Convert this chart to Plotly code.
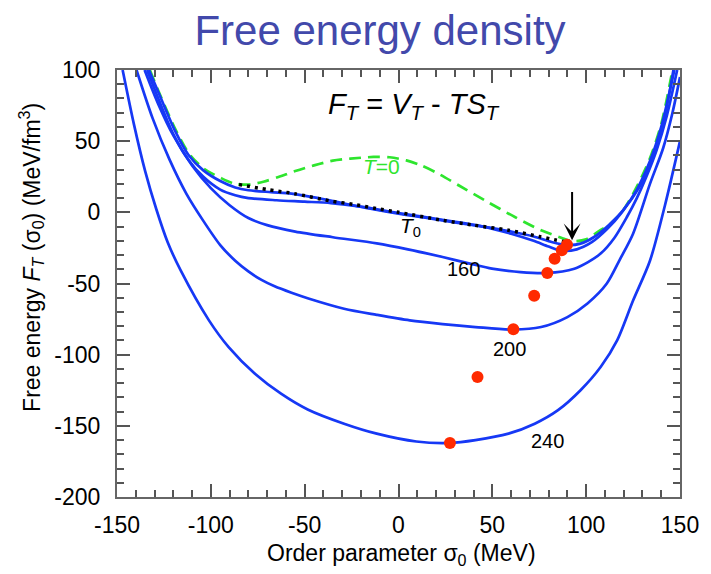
import plotly.graph_objects as go

# ---------------- data ----------------
green_T0_x = [-132.5, -127.4, -118.6, -111.6, -104, -94, -87, -80, -72, -64, -55, -45, -35, -25.7,
              -13.3, -4.7, 4.2, 12, 20, 32, 46, 62, 76, 86.7, 93, 100, 107, 113, 120, 127, 134, 140, 146]
green_T0_y = [100, 83.6, 57.6, 41.2, 31, 23.7, 20, 19.5, 21.5, 24.8, 29, 33, 36.3, 37.7,
              38.9, 38.7, 36.5, 33, 28, 19, 8.4, -3.3, -12.6, -17.8, -20.3, -19, -13, -8, 2, 18, 38, 62, 100]

dot_x = [-85, -70, -55.4, -36.3, -24, -11.6, 0, 23.5, 40, 58.6, 75, 83, 88]
dot_y = [19.5, 16, 13.1, 8, 5.6, 2.6, 0, -5.6, -9, -12.6, -17, -19.2, -20.5]

cT0_x = [-133, -127.5, -119, -112, -104, -95, -87, -80, -68, -57, -45, -30, -15, 0, 15, 30, 45,
         60, 72, 82, 90, 97, 104, 112, 120, 128, 135, 141, 146.5]
cT0_y = [100, 83, 57, 40.5, 29.5, 22, 17.5, 15.5, 14.2, 13.2, 10.5, 6.5, 2.5, -1, -4, -7, -10,
         -13.5, -17, -21, -23, -22, -17.5, -9, 2, 17, 37, 62, 100]

cT1_x = [-134, -128, -120, -112, -104, -95, -87, -80, -65, -50, -36, -20, 0, 25, 45, 60, 72, 80,
         87, 95, 103, 111, 119, 127, 134, 140, 147]
cT1_y = [100, 80, 55, 37, 25, 16, 12, 10, 8.5, 7.5, 6.5, 4, -0.5, -5.6, -10, -15, -20, -24,
         -27, -26, -21, -12, 0, 16, 36, 60, 100]

c160_x = [-135.3, -128, -120, -110, -100, -90, -80, -70, -55, -35, -11.6, 5, 23.5, 38, 49.8, 65,
          79.3, 93.7, 101, 107.7, 115, 121.7, 127, 132, 137.5, 143, 148.5]
c160_y = [100, 76, 54, 33, 17, 5, -4, -9, -13.5, -17.5, -21.8, -26, -31.4, -36, -39.6, -42,
          -42.6, -39.6, -35, -29, -18, -3.3, 10, 24.8, 43.6, 68, 100]

c200_x = [-139.6, -131, -122, -113, -104, -95, -87, -80, -73, -66, -57, -48, -29, -11.6, 6, 23.5,
          41, 61.2, 76, 90, 100.7, 111, 118, 125, 134, 141, 146, 150]
c200_y = [100, 66, 37, 13, -6, -23, -34, -41.5, -47.5, -52, -56.5, -60.5, -67.7, -72, -75.9, -78.5,
          -80.6, -82.4, -80.6, -73.6, -64, -50, -33, -15, 20, 45, 70, 95]

c240_x = [-147, -141, -135, -129, -123, -116, -101, -90.5, -76.5, -62.6, -48.4, -29, -11.6, 9.5,
          27.4, 41, 58.6, 72.6, 85, 97, 107.7, 116.5, 125, 134, 142, 150]
c240_y = [100, 62, 29, 2, -21, -41, -75.9, -94.7, -113.4, -127.4, -138.5, -148.5, -155.5, -161,
          -162, -160, -155.5, -148.5, -139, -125, -108.7, -90, -62, -34, 5, 50]

min_x = [89.8, 87, 83.2, 79.3, 72.3, 61.2, 42.1, 27.4]
min_y = [-22.7, -26.7, -32.6, -42.6, -58.6, -82.2, -115.7, -162.1]

x_ticks = [-150, -100, -50, 0, 50, 100, 150]
y_ticks = [-200, -150, -100, -50, 0, 50, 100]

# ---------------- figure ----------------
BLUE = "#1638f5"
GREEN = "#2ee52e"
RED = "#ff2a00"
FONT = "Liberation Sans, Arial, sans-serif"

fig = go.Figure()
fig.add_trace(go.Scatter(x=green_T0_x, y=green_T0_y, mode="lines",
                         line=dict(color=GREEN, width=2.7, dash="12px,7px", shape="spline", smoothing=0.8)))
for cx, cy in [(c240_x, c240_y), (c200_x, c200_y), (c160_x, c160_y), (cT1_x, cT1_y), (cT0_x, cT0_y)]:
    fig.add_trace(go.Scatter(x=cx, y=cy, mode="lines",
                             line=dict(color=BLUE, width=2.7, shape="spline", smoothing=0.8)))
fig.add_trace(go.Scatter(x=dot_x, y=dot_y, mode="lines",
                         line=dict(color="black", width=3.5, dash="3px,5px", shape="spline", smoothing=0.8)))
fig.add_trace(go.Scatter(x=min_x, y=min_y, mode="markers",
                         marker=dict(color=RED, size=12, line=dict(width=0))))

axis_common = dict(
    showline=True, linecolor="#666666", linewidth=2, mirror="ticks",
    ticks="inside", ticklen=13, tickwidth=1.5, tickcolor="#555555",
    showgrid=False, zeroline=False,
    tickfont=dict(family=FONT, size=23, color="black"),
    minor=dict(ticks="inside", ticklen=7, tickwidth=1.5, tickcolor="#555555", dtick=10, showgrid=False),
)

fig.update_xaxes(range=[-150, 150], tickvals=x_ticks, ticktext=[str(v) for v in x_ticks],
                 ticklabelstandoff=6, **axis_common)
fig.update_yaxes(range=[-200, 100], tickvals=y_ticks, ticktext=[str(v) for v in y_ticks],
                 ticklabelstandoff=10, **axis_common)

ann = []
ann.append(dict(x=8.4, y=74.5, xref="x", yref="y", showarrow=False,
                text="<i>F<sub>T</sub></i> = <i>V<sub>T</sub></i> - <i>TS<sub>T</sub></i>",
                font=dict(family=FONT, size=29, color="black")))
ann.append(dict(x=-9, y=32.3, xref="x", yref="y", showarrow=False, text="<i>T</i>=0",
                font=dict(family=FONT, size=21, color=GREEN)))
ann.append(dict(x=6.3, y=-10.5, xref="x", yref="y", showarrow=False, text="<i>T</i><sub>0</sub>",
                font=dict(family=FONT, size=21, color="black")))
for lx, ly, lt in [(34.5, -40, "160"), (59, -96.3, "200"), (79.5, -161, "240")]:
    ann.append(dict(x=lx, y=ly, xref="x", yref="y", showarrow=False, text=lt,
                    font=dict(family=FONT, size=20, color="black")))
# arrow pointing at the T=0 minimum
ann.append(dict(x=92.5, y=-19.7, ax=92.5, ay=21.3, xref="x", yref="y", axref="x", ayref="y",
                showarrow=True, arrowhead=3, arrowsize=1.4, arrowwidth=2, arrowcolor="black", text=" "))
# axis titles
ann.append(dict(x=(405 - 117) / 569, y=(497 - 554) / 427, xref="paper", yref="paper", showarrow=False,
                text="Order parameter σ<sub>0</sub> (MeV)", xanchor="center", yanchor="middle",
                font=dict(family=FONT, size=23, color="black")))
ann.append(dict(x=(30 - 117) / 569, y=(497 - 257) / 427, xref="paper", yref="paper", showarrow=False,
                text="Free energy <i>F<sub>T</sub></i> (σ<sub>0</sub>) (MeV/fm<sup>3</sup>)",
                textangle=-90, xanchor="center", yanchor="middle",
                font=dict(family=FONT, size=23, color="black")))

fig.update_layout(
    width=711, height=574,
    margin=dict(l=117, r=25, t=70, b=77),
    paper_bgcolor="white", plot_bgcolor="white",
    showlegend=False,
    title=dict(text="Free energy density", x=380 / 711, xref="container", xanchor="center",
               y=1 - 30 / 574, yref="container", yanchor="middle",
               font=dict(family=FONT, size=42, color="#4249ab")),
    annotations=ann,
)

fig.write_html("out.html")
